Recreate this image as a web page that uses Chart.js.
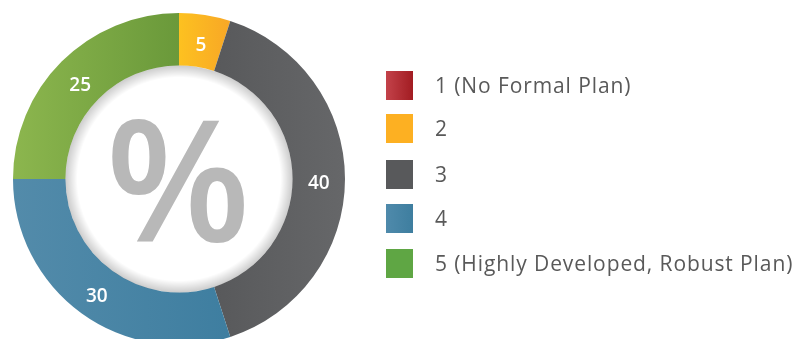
<!DOCTYPE html>
<html>
<head>
<meta charset="utf-8">
<script src="https://cdn.jsdelivr.net/npm/chart.js@4/dist/chart.umd.min.js"></script>
<style>
  html, body { margin: 0; padding: 0; background: #ffffff; overflow: hidden; width: 802px; height: 339px; }
  #wrap { position: absolute; left: 0; top: 0; width: 802px; height: 358px; }
  #legend { position: absolute; left: 386px; top: 71px; font-family: "Open Sans", "Noto Sans", sans-serif; font-size: 21px; letter-spacing: 0.9px; color: #595959; }
  .item { position: absolute; left: 0; height: 29px; white-space: nowrap; }
  .box { position: absolute; left: 0; top: 0; width: 27px; height: 29px; }
  .txt { position: absolute; left: 49px; top: 0; line-height: 29px; }
</style>
</head>
<body>
<div id="wrap"><canvas id="c" width="802" height="358"></canvas></div>
<div id="legend"></div>
<script>
const categories = ["1 (No Formal Plan)", "2", "3", "4", "5 (Highly Developed, Robust Plan)"];
const values = [0, 5, 40, 30, 25];
const centerText = "%";
// gradient stops [leftColor, rightColor] per slice, and legend swatch colours
const sliceLeft  = ["#c3424a", "#fdc120", "#58595b", "#538baa", "#8cb64e"];
const sliceRight = ["#a21c22", "#f8a726", "#666769", "#3e7ea0", "#6a993a"];
const legendLeft  = ["#c3424a", "#fdb022", "#58595b", "#4f8aab", "#5fa644"];
const legendRight = ["#a21c22", "#fdb022", "#58595b", "#3e7e9f", "#5fa644"];

function sliceFill(context) {
  const chart = context.chart;
  const area = chart.chartArea;
  const i = context.dataIndex;
  if (!area) return sliceLeft[i];
  const el = context.element;
  let x0 = area.left, x1 = area.right;
  if (el && el.outerRadius) {
    const p = el.getProps(['x','startAngle','endAngle','outerRadius','innerRadius'], true);
    const xs = [];
    const n = 24;
    for (let k = 0; k <= n; k++) {
      const a = p.startAngle + (p.endAngle - p.startAngle) * k / n;
      xs.push(p.x + Math.cos(a) * p.outerRadius, p.x + Math.cos(a) * p.innerRadius);
    }
    x0 = Math.min.apply(null, xs); x1 = Math.max.apply(null, xs);
  }
  if (!(x1 > x0)) { x0 = area.left; x1 = area.right; }
  const g = chart.ctx.createLinearGradient(x0, 0, x1, 0);
  g.addColorStop(0, sliceLeft[i]);
  g.addColorStop(1, sliceRight[i]);
  return g;
}

const decor = {
  id: 'decor',
  afterDatasetsDraw(chart) {
    const meta = chart.getDatasetMeta(0);
    const ctx = chart.ctx;
    const arc0 = meta.data[0];
    const cx = arc0.x, cy = arc0.y;
    const r = arc0.innerRadius;
    // inner shadow of the hole
    ctx.save();
    const g = ctx.createRadialGradient(cx, cy, r - 12, cx, cy, r);
    g.addColorStop(0, 'rgba(0,0,0,0)');
    g.addColorStop(1, 'rgba(0,0,0,0.2)');
    ctx.beginPath();
    ctx.arc(cx, cy, r, 0, Math.PI * 2);
    ctx.fillStyle = g;
    ctx.fill();
    ctx.restore();
    // centre symbol
    ctx.save();
    ctx.fillStyle = '#b8b8b8';
    ctx.font = '600 168px "Open Sans", "Noto Sans", sans-serif';
    ctx.textAlign = 'center';
    ctx.textBaseline = 'middle';
    ctx.fillText(centerText, cx - 1, cy + 14);
    ctx.restore();
    // data labels
    ctx.save();
    ctx.fillStyle = '#ffffff';
    ctx.font = '600 19px "Open Sans", "Noto Sans", sans-serif';
    ctx.textAlign = 'center';
    ctx.textBaseline = 'middle';
    meta.data.forEach((arc, i) => {
      const v = chart.data.datasets[0].data[i];
      if (!v) return;
      const p = arc.tooltipPosition();
      ctx.fillText(String(v), p.x, p.y + 5);
    });
    ctx.restore();
  }
};

const chart = new Chart(document.getElementById('c'), {
  type: 'doughnut',
  data: {
    labels: categories,
    datasets: [{
      data: values,
      backgroundColor: sliceFill,
      borderWidth: 0,
      hoverOffset: 0
    }]
  },
  options: {
    responsive: false,
    devicePixelRatio: 1,
    animation: false,
    cutout: '68.4%',
    layout: { padding: { left: 13, top: 13, right: 457, bottom: 13 } },
    plugins: { legend: { display: false }, tooltip: { enabled: false } },
    events: []
  },
  plugins: [decor]
});
// re-render so gradients use element geometry
chart.update('none');

// HTML legend built from the chart's data
const tops = [0, 43, 89, 133, 178];
const legendEl = document.getElementById('legend');
chart.data.labels.forEach((lab, i) => {
  const item = document.createElement('div');
  item.className = 'item';
  item.style.top = tops[i] + 'px';
  const box = document.createElement('div');
  box.className = 'box';
  box.style.background = 'linear-gradient(to right, ' + legendLeft[i] + ', ' + legendRight[i] + ')';
  const t = document.createElement('span');
  t.className = 'txt';
  t.textContent = lab;
  item.appendChild(box); item.appendChild(t);
  legendEl.appendChild(item);
});
</script>
</body>
</html>
